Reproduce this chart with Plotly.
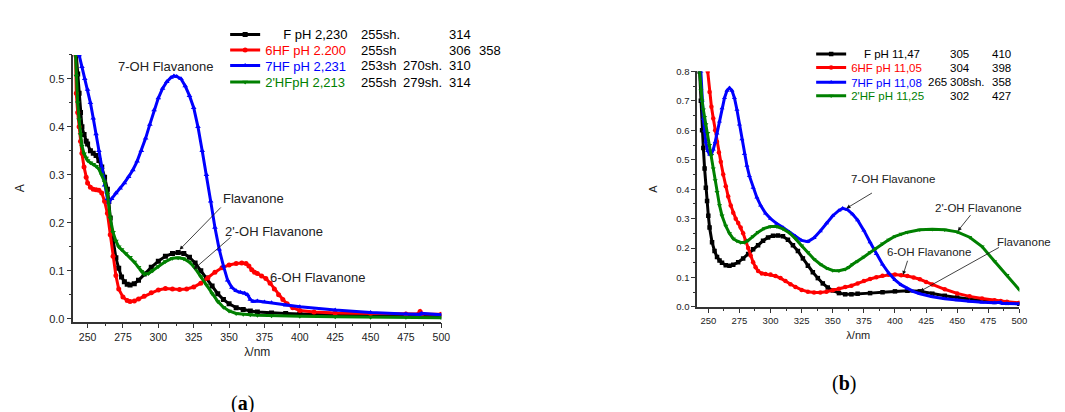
import plotly.graph_objects as go

# ---------------- Panel (a): acidic pH ----------------
a_F_wl = [242, 243, 244, 245, 246, 247.5, 249, 250, 252, 254, 256, 258, 260, 262, 264, 265, 266, 268, 270, 272, 274, 276, 278, 280,
          283, 286, 290, 295, 300, 305, 310, 314, 318, 322, 326, 330, 334, 338, 342, 346, 350, 355, 360, 365, 370, 380, 390,
          400, 420, 440, 460, 480, 500]
a_F_A = [0.55, 0.51, 0.47, 0.43, 0.40, 0.384, 0.37, 0.364, 0.35, 0.345, 0.34, 0.33, 0.316, 0.295, 0.27, 0.245, 0.21, 0.165, 0.127,
         0.105, 0.087, 0.077, 0.072, 0.070, 0.073, 0.080, 0.093, 0.107, 0.12, 0.13, 0.136, 0.138, 0.136, 0.128, 0.116, 0.10,
         0.085, 0.068, 0.052, 0.04, 0.031, 0.023, 0.019, 0.016, 0.014, 0.012, 0.011, 0.010, 0.009, 0.008, 0.007, 0.006, 0.005]

a_6HF_wl = [241.5, 242, 243, 244, 245, 246, 247.5, 249, 250, 252, 254, 256, 258, 260, 262, 264, 266, 268, 270, 272, 275, 278, 280,
            283, 286, 290, 295, 300, 305, 310, 315, 320, 325, 330, 335, 340, 345, 350, 355, 359, 362, 364, 366, 368, 370, 373,
            376, 379, 382, 385, 388, 391, 395, 400, 410, 425, 450, 475, 484, 485, 486, 500]
a_6HF_A = [0.55, 0.47, 0.43, 0.40, 0.37, 0.345, 0.316, 0.295, 0.283, 0.274, 0.27, 0.269, 0.268, 0.262, 0.245, 0.22, 0.175, 0.13,
           0.09, 0.062, 0.045, 0.038, 0.036, 0.037, 0.041, 0.047, 0.054, 0.06, 0.063, 0.062, 0.061, 0.062, 0.066, 0.074, 0.085,
           0.097, 0.106, 0.112, 0.115, 0.116, 0.115, 0.11, 0.102, 0.097, 0.094, 0.089, 0.084, 0.074, 0.062, 0.05, 0.04, 0.031,
           0.023, 0.017, 0.014, 0.012, 0.011, 0.010, 0.010, 0.015, 0.010, 0.009]

a_7HF_wl = [244, 246, 248, 250, 252, 254, 256, 258, 260, 262, 264, 265, 267, 270, 273, 276, 279, 282, 285, 288, 291, 294, 297, 300,
            303, 306, 309, 311, 313, 316, 319, 322, 325, 328, 331, 334, 337, 340, 343, 346, 349, 352, 355, 358, 361, 363, 365,
            367, 370, 375, 380, 390, 400, 425, 450, 475, 485, 486, 500]
a_7HF_A = [0.55, 0.525, 0.50, 0.478, 0.45, 0.418, 0.385, 0.35, 0.315, 0.278, 0.25, 0.243, 0.25, 0.262, 0.272, 0.283, 0.296, 0.31,
           0.328, 0.35, 0.376, 0.405, 0.435, 0.46, 0.48, 0.494, 0.503, 0.506, 0.505, 0.5, 0.485, 0.465, 0.44, 0.40, 0.35, 0.30,
           0.245, 0.19, 0.145, 0.11, 0.08, 0.065, 0.058, 0.055, 0.053, 0.05, 0.04, 0.036, 0.037, 0.035, 0.033, 0.028, 0.025,
           0.018, 0.013, 0.010, 0.009, 0.011, 0.008]

a_2HF_wl = [241.5, 242, 243, 244, 245, 246, 247.5, 249, 250, 252, 254, 256, 258, 260, 262, 264, 266, 268, 270, 272, 274, 277, 280,
            283, 286, 288, 290, 293, 296, 300, 305, 310, 314, 318, 322, 326, 330, 334, 338, 342, 346, 350, 355, 360, 365, 370,
            380, 400, 425, 450, 475, 500]
a_2HF_A = [0.55, 0.506, 0.45, 0.415, 0.384, 0.36, 0.344, 0.335, 0.33, 0.325, 0.322, 0.318, 0.312, 0.30, 0.285, 0.26, 0.21, 0.18,
           0.162, 0.15, 0.144, 0.136, 0.128, 0.118, 0.107, 0.099, 0.093, 0.094, 0.100, 0.109, 0.119, 0.126, 0.127, 0.125, 0.118,
           0.105, 0.088, 0.07, 0.052, 0.036, 0.024, 0.016, 0.011, 0.009, 0.008, 0.007, 0.006, 0.005, 0.004, 0.003, 0.003, 0.002]

# ---------------- Panel (b): basic pH ----------------
b_F_wl = [243, 244, 245, 246, 247, 248, 249, 250, 251, 253, 255, 257, 259, 261, 264, 267, 270, 274, 278, 282, 286, 290, 294, 298,
          302, 306, 310, 314, 318, 322, 326, 330, 334, 338, 342, 346, 350, 355, 360, 365, 370, 380, 390, 400, 410, 420, 430,
          440, 450, 460, 470, 480, 490, 500]
b_F_A = [0.80, 0.70, 0.60, 0.54, 0.47, 0.405, 0.36, 0.31, 0.27, 0.22, 0.19, 0.17, 0.158, 0.15, 0.142, 0.14, 0.143, 0.152, 0.165,
         0.18, 0.196, 0.21, 0.225, 0.236, 0.242, 0.243, 0.24, 0.228, 0.21, 0.19, 0.165, 0.14, 0.118, 0.098, 0.08, 0.066, 0.056,
         0.047, 0.043, 0.043, 0.045, 0.047, 0.05, 0.053, 0.055, 0.053, 0.045, 0.038, 0.032, 0.026, 0.021, 0.017, 0.014, 0.011]

b_6HF_wl = [249.5, 251, 252.5, 254, 255.5, 257, 258.5, 260, 262, 264, 266, 268, 270, 272, 274, 276, 278, 280, 282, 284, 286, 288,
            290, 293, 296, 300, 304, 308, 312, 316, 320, 325, 330, 335, 340, 345, 350, 355, 360, 365, 370, 375, 380, 385, 390,
            395, 400, 405, 410, 415, 420, 425, 430, 440, 450, 460, 470, 480, 485, 490, 500]
b_6HF_A = [0.80, 0.73, 0.68, 0.64, 0.60, 0.56, 0.525, 0.493, 0.45, 0.41, 0.375, 0.345, 0.32, 0.30, 0.285, 0.27, 0.25, 0.225, 0.20,
           0.175, 0.152, 0.135, 0.122, 0.114, 0.112, 0.11, 0.105, 0.098, 0.088, 0.077, 0.068, 0.058, 0.052, 0.049, 0.049, 0.052,
           0.057, 0.062, 0.068, 0.072, 0.08, 0.088, 0.095, 0.101, 0.106, 0.109, 0.11, 0.108, 0.105, 0.10, 0.094, 0.085, 0.076,
           0.06, 0.046, 0.036, 0.029, 0.023, 0.02, 0.018, 0.014]

b_7HF_wl = [244, 245, 246, 247, 248, 249.5, 251, 252.5, 254, 255.5, 257, 259, 261, 263, 265, 267, 269, 271, 273, 275, 277, 279,
            281, 283, 286, 289, 292, 296, 300, 305, 310, 315, 320, 325, 330, 335, 340, 345, 350, 355, 358, 362, 366, 370, 375,
            380, 385, 390, 395, 400, 405, 410, 415, 420, 430, 440, 450, 460, 470, 480, 485, 486, 490, 500]
b_7HF_A = [0.80, 0.70, 0.64, 0.60, 0.56, 0.53, 0.518, 0.52, 0.535, 0.56, 0.59, 0.63, 0.675, 0.71, 0.735, 0.744, 0.735, 0.71, 0.67,
           0.62, 0.57, 0.52, 0.48, 0.445, 0.405, 0.372, 0.345, 0.318, 0.30, 0.283, 0.27, 0.255, 0.24, 0.226, 0.222, 0.235, 0.258,
           0.285, 0.31, 0.328, 0.335, 0.33, 0.315, 0.295, 0.26, 0.22, 0.18, 0.145, 0.115, 0.092, 0.075, 0.062, 0.052, 0.045,
           0.035, 0.028, 0.023, 0.019, 0.016, 0.014, 0.016, 0.012, 0.012, 0.011]

b_2HF_wl = [243, 244, 245, 246, 247, 248, 249.5, 251, 252.5, 254, 255.5, 257, 259, 261, 264, 267, 270, 273, 276, 279, 282, 286,
            290, 295, 300, 305, 310, 315, 320, 325, 330, 335, 340, 345, 350, 355, 360, 363, 366, 370, 375, 380, 385, 390, 395,
            400, 405, 410, 420, 430, 440, 450, 460, 470, 480, 490, 500]
b_2HF_A = [0.80, 0.735, 0.70, 0.67, 0.645, 0.62, 0.59, 0.55, 0.515, 0.47, 0.43, 0.39, 0.345, 0.31, 0.275, 0.25, 0.232, 0.224,
           0.219, 0.219, 0.226, 0.24, 0.254, 0.267, 0.273, 0.273, 0.265, 0.252, 0.232, 0.208, 0.185, 0.162, 0.145, 0.132, 0.124,
           0.123, 0.128, 0.135, 0.145, 0.155, 0.17, 0.185, 0.20, 0.215, 0.228, 0.24, 0.248, 0.254, 0.262, 0.264, 0.262, 0.255,
           0.237, 0.205, 0.155, 0.108, 0.058]

# legend names and extra legend columns
a_names = ["\u00a0\u00a0\u00a0\u00a0\u00a0F pH 2,230", "6HF pH 2.200", "7HF pH 2,231", "2'HFpH 2,213"]
a_cols = [["255sh.", "", "314", ""], ["255sh", "", "306", "358"], ["253sh", "270sh.", "310", ""], ["255sh", "279sh.", "314", ""]]
b_names = ["\u00a0\u00a0\u00a0\u00a0F pH 11,47", "6HF pH 11,05", "7HF pH 11,08", "2'HF pH 11,25"]
b_cols = [["", "305", "410"], ["", "304", "398"], ["265", "308sh.", "358"], ["", "302", "427"]]

colors = ["#000000", "#ff0000", "#0000ff", "#008000"]
symbols = ["square", "circle", "triangle-up", "triangle-down"]

W, H = 1065, 412
FONT = "Liberation Sans, Arial, sans-serif"

fig = go.Figure()

a_series = [(a_F_wl, a_F_A), (a_6HF_wl, a_6HF_A), (a_7HF_wl, a_7HF_A), (a_2HF_wl, a_2HF_A)]
b_series = [(b_F_wl, b_F_A), (b_6HF_wl, b_6HF_A), (b_7HF_wl, b_7HF_A), (b_2HF_wl, b_2HF_A)]

for i, (wl, A) in enumerate(a_series):
    fig.add_trace(go.Scatter(x=wl, y=A, name=a_names[i], mode="lines+markers",
                             line=dict(color=colors[i], width=3),
                             marker=dict(symbol=symbols[i], size=5, color=colors[i]),
                             xaxis="x", yaxis="y", legend="legend" if i == 0 else f"legend{i+1}",
                             cliponaxis=True))
for i, (wl, A) in enumerate(b_series):
    fig.add_trace(go.Scatter(x=wl, y=A, name=b_names[i], mode="lines+markers",
                             line=dict(color=colors[i], width=3),
                             marker=dict(symbol=symbols[i], size=4.5, color=colors[i]),
                             xaxis="x2", yaxis="y2", legend=f"legend{i+5}",
                             cliponaxis=True))

# legends: one row each, positioned like the reference
a_rows = [21, 37, 53, 70]
b_rows = [41, 55, 70, 84]
legends = {}
for i in range(4):
    key = "legend" if i == 0 else f"legend{i+1}"
    legends[key] = dict(x=(228 - 9) / W, y=1 - a_rows[i] / H, xanchor="left", yanchor="middle",
                        bgcolor="rgba(0,0,0,0)", itemwidth=30,
                        font=dict(family=FONT, size=13, color=colors[i] if i > 0 else "#000"))
for i in range(4):
    key = f"legend{i+5}"
    legends[key] = dict(x=(817 - 7) / W, y=1 - b_rows[i] / H, xanchor="left", yanchor="middle",
                        bgcolor="rgba(0,0,0,0)", itemwidth=30,
                        font=dict(family=FONT, size=11.5, color=colors[i] if i > 0 else "#000"))

axis_common = dict(showline=True, linecolor="#333", linewidth=1.5, ticks="outside", tickcolor="#333",
                   tickwidth=1, showgrid=False, zeroline=False, mirror=False)

layout = dict(
    width=W, height=H, margin=dict(l=0, r=0, t=0, b=0),
    paper_bgcolor="white", plot_bgcolor="white",
    font=dict(family=FONT, color="#222"),
    xaxis=dict(domain=[66 / W, 437 / W], range=[240, 500], anchor="y", tick0=250, dtick=25, ticklen=5,
               minor=dict(ticks="outside", dtick=12.5, tick0=250, ticklen=3, tickcolor="#333"),
               tickfont=dict(size=10.5, color="#222"),
               title=dict(text="λ/nm", font=dict(size=12, color="#222"), standoff=6), **axis_common),
    yaxis=dict(domain=[(H - 316) / H, (H - 42) / H], range=[-0.006, 0.55], anchor="x", tick0=0, dtick=0.1,
               tickformat=".1f", ticklen=5,
               minor=dict(ticks="outside", dtick=0.05, tick0=0, ticklen=3, tickcolor="#333"),
               tickfont=dict(size=11, color="#222"),
               title=dict(text="A", font=dict(size=12, color="#222"), standoff=22), **axis_common),
    xaxis2=dict(domain=[695 / W, 1020 / W], range=[241, 500], anchor="y2", tick0=250, dtick=25, ticklen=4,
                minor=dict(ticks="outside", dtick=12.5, tick0=250, ticklen=2.5, tickcolor="#333"),
                tickfont=dict(size=9.5, color="#222"),
                title=dict(text="λ/nm", font=dict(size=11, color="#222"), standoff=6), **axis_common),
    yaxis2=dict(domain=[(H - 301) / H, (H - 59) / H], range=[0, 0.8], anchor="x2", tick0=0, dtick=0.1,
                tickformat=".1f", ticklen=4,
                minor=dict(ticks="outside", dtick=0.05, tick0=0, ticklen=2.5, tickcolor="#333"),
                tickfont=dict(size=9.5, color="#222"),
                title=dict(text="A", font=dict(size=11, color="#222"), standoff=16), **axis_common),
    showlegend=True,
)
layout.update(legends)
fig.update_layout(**layout)

ann = []
# legend extra columns
a_colx = [354, 396, 443, 473]
for r in range(4):
    for c, txt in enumerate(a_cols[r]):
        if txt:
            ann.append(dict(text=txt, xref="paper", yref="paper", x=a_colx[c] / W, y=1 - a_rows[r] / H,
                            xanchor="left", yanchor="middle", showarrow=False,
                            font=dict(family=FONT, size=13, color="#000")))
b_colx = [926, 948, 990]
for r in range(4):
    for c, txt in enumerate(b_cols[r]):
        if txt:
            ann.append(dict(text=txt, xref="paper", yref="paper", x=b_colx[c] / W, y=1 - b_rows[r] / H,
                            xanchor="left", yanchor="middle", showarrow=False,
                            font=dict(family=FONT, size=11.5, color="#000")))

# curve labels (a)
for txt, x, y in [("7-OH Flavanone", 305, 0.526), ("Flavanone", 367.6, 0.251),
                  ("2'-OH Flavanone", 382, 0.182), ("6-OH Flavanone", 412.5, 0.085)]:
    ann.append(dict(text=txt, xref="x", yref="y", x=x, y=y, showarrow=False, xanchor="center", yanchor="middle",
                    font=dict(family=FONT, size=13, color="#222")))
for (hx, hy, tx, ty) in [(315, 0.1437, 345.2, 0.235), (325, 0.103, 352, 0.172)]:
    ann.append(dict(text="", xref="x", yref="y", axref="x", ayref="y", x=hx, y=hy, ax=tx, ay=ty,
                    showarrow=True, arrowhead=2, arrowsize=1, arrowwidth=0.8, arrowcolor="#111"))

# curve labels (b)
for txt, x, y in [("7-OH Flavanone", 398.6, 0.436), ("2'-OH Flavanone", 467, 0.337),
                  ("6-OH Flavanone", 427.4, 0.185)]:
    ann.append(dict(text=txt, xref="x2", yref="y2", x=x, y=y, showarrow=False, xanchor="center", yanchor="middle",
                    font=dict(family=FONT, size=11.5, color="#222")))
ann.append(dict(text="Flavanone", xref="paper", yref="paper", x=1025 / W, y=1 - 234 / H, showarrow=False,
                xanchor="center", yanchor="middle", font=dict(family=FONT, size=11.5, color="#222")))
for (hx, hy, tx, ty) in [(361, 0.335, 382.7, 0.39), (450.5, 0.258, 461.7, 0.317),
                         (406.5, 0.109, 410.5, 0.162), (420.2, 0.053, 484.8, 0.205)]:
    ann.append(dict(text="", xref="x2", yref="y2", axref="x2", ayref="y2", x=hx, y=hy, ax=tx, ay=ty,
                    showarrow=True, arrowhead=2, arrowsize=1, arrowwidth=0.8, arrowcolor="#111"))

# panel labels
ann.append(dict(text="(<b>a</b>)", xref="paper", yref="paper", x=237 / W, y=1 - 400 / H, showarrow=False,
                xanchor="center", yanchor="middle",
                font=dict(family="Liberation Serif, serif", size=20, color="#000")))
ann.append(dict(text="(<b>b</b>)", xref="paper", yref="paper", x=843 / W, y=1 - 380 / H, showarrow=False,
                xanchor="center", yanchor="middle",
                font=dict(family="Liberation Serif, serif", size=20, color="#000")))

fig.update_layout(annotations=ann)
fig.write_html("out.html")
